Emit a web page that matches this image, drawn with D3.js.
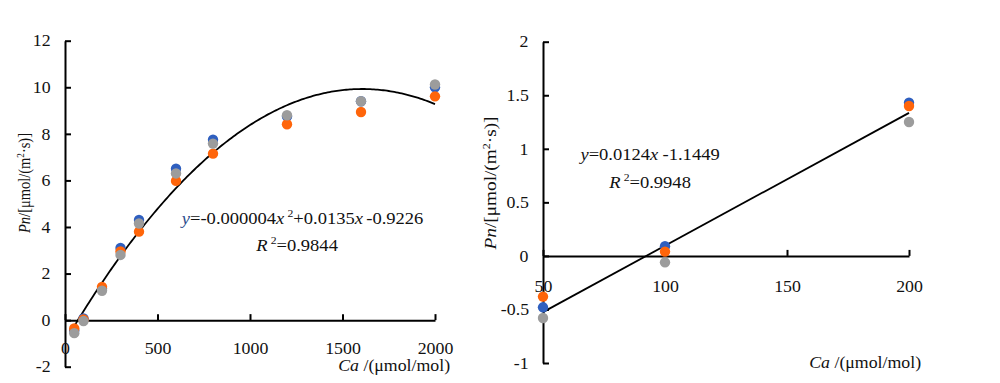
<!DOCTYPE html>
<html><head><meta charset="utf-8">
<script src="https://cdn.jsdelivr.net/npm/d3@7"></script>
<style>
.sx{transform-box:fill-box;transform-origin:center;transform:scaleX(1.08);}
.sq{transform-box:fill-box;transform-origin:center;transform:scaleX(1.06);}
</style>
</head>
<body style="margin:0;background:#fff;">
<script>
// ---- data: left chart ----
const leftCa = [50,100,200,300,400,600,800,1200,1600,2000];
const leftBlue = [-0.45,0.07,1.35,3.1,4.3,6.5,7.75,8.75,9.4,10.0];
const leftOrange = [-0.36,0.03,1.43,2.95,3.8,5.98,7.15,8.41,8.94,9.61];
const leftGray = [-0.56,-0.04,1.26,2.8,4.15,6.3,7.58,8.8,9.4,10.12];
const leftFit = [-0.0000042,0.0135,-0.9226]; // quadratic trendline a,b,c
const leftXTicks = [0,500,1000,1500,2000];
const leftYTicks = [-2,0,2,4,6,8,10,12];

// ---- data: right chart ----
const rightCa = [50,100,200];
const rightBlue = [-0.48,0.09,1.43];
const rightOrange = [-0.38,0.04,1.40];
const rightGray = [-0.58,-0.06,1.25];
const rightFit = [0.0124,-1.1449]; // linear trendline slope, intercept
const rightXTicks = [50,100,150,200];
const rightYTicks = [-1,-0.5,0,0.5,1,1.5,2];

const colors = {blue:"#2F5FBF", orange:"#FF650A", gray:"#9C9C9C"};
const FONT = "Liberation Serif";
const FS = 16.5, FE = 17.5;

const svg = d3.select("body").append("svg").attr("width",1000).attr("height",383)
  .attr("font-family",FONT);
svg.append("rect").attr("width",1000).attr("height",383).attr("fill","#fff");

function txt(sel){ return sel.append("text").attr("font-family",FONT).attr("fill","#111"); }

function drawPanel(o){
  const g = svg.append("g");
  const x = d3.scaleLinear().domain(o.xDomain).range(o.xRange);
  const y = d3.scaleLinear().domain(o.yDomain).range(o.yRange);
  const ya = g.append("g").attr("transform",`translate(${o.xRange[0]},0)`)
    .call(d3.axisLeft(y).tickValues(o.yTicks).tickSizeInner(-6).tickSizeOuter(0).tickPadding(15).tickFormat(d=>String(d)));
  const xa = g.append("g").attr("transform",`translate(0,${y(0)})`)
    .call(d3.axisBottom(x).tickValues(o.xTicks).tickSizeInner(-6).tickSizeOuter(0).tickPadding(o.xPad).tickFormat(d=>String(d)));
  [ya,xa].forEach(a=>{
    a.attr("font-family",FONT).attr("font-size",FS);
    a.select(".domain").attr("stroke","#000").attr("stroke-width",2);
    a.selectAll(".tick line").attr("stroke","#000").attr("stroke-width",2);
    a.selectAll(".tick text").attr("fill","#111").attr("font-family",FONT).attr("class","sx");
  });
  const fitPts = o.fitX.map(v=>[v,o.fitFn(v)]);
  g.append("path").datum(fitPts)
    .attr("d",d3.line().x(d=>x(d[0])).y(d=>y(d[1])))
    .attr("fill","none").attr("stroke","#000").attr("stroke-width",1.8);
  [["blue",o.blue],["orange",o.orange],["gray",o.gray]].forEach(([c,vals])=>{
    g.selectAll(null).data(o.xs.map((v,i)=>[v,vals[i]])).enter().append("circle")
      .attr("cx",d=>x(d[0])).attr("cy",d=>y(d[1])).attr("r",5.2).attr("fill",colors[c]);
  });
  const t = txt(g).attr("transform",`translate(${o.titleX},183) rotate(-90)`)
    .attr("text-anchor","middle").attr("font-size",16).attr("dy","0.35em")
    .attr("textLength",o.titleLen).attr("lengthAdjust","spacingAndGlyphs");
  t.append("tspan").attr("font-style","italic").text("Pn");
  t.append("tspan").text("/[μmol/(m");
  t.append("tspan").attr("font-size",10).attr("dy",-6).text("2");
  t.append("tspan").attr("dy",6).text("·s)]");
  const xt = txt(g).attr("x",o.xTitleX).attr("y",o.xTitleY).attr("text-anchor","end").attr("font-size",FS).attr("class","sx");
  xt.append("tspan").attr("font-style","italic").text("Ca");
  xt.append("tspan").text(" /(μmol/mol)");
  return {x,y,g};
}

drawPanel({
  xDomain:[0,2000], xRange:[65,435], yDomain:[-2,12], yRange:[366.7,40.7],
  xTicks:leftXTicks, yTicks:leftYTicks, xPad:22,
  xs:leftCa, blue:leftBlue, orange:leftOrange, gray:leftGray,
  fitX:d3.range(50,2001,10), fitFn:v=>leftFit[0]*v*v+leftFit[1]*v+leftFit[2],
  titleX:24, titleLen:100, xTitleX:446, xTitleY:371
});
drawPanel({
  xDomain:[50,200], xRange:[543,909], yDomain:[-1,2], yRange:[363,41.7],
  xTicks:rightXTicks, yTicks:rightYTicks, xPad:24,
  xs:rightCa, blue:rightBlue, orange:rightOrange, gray:rightGray,
  fitX:[50,200], fitFn:v=>rightFit[0]*v+rightFit[1],
  titleX:490, titleLen:133, xTitleX:917, xTitleY:368
});

function sup(t){ t.append("tspan").attr("font-size",11).attr("dy",-7).attr("dx",3).text("2"); }
function eqLeft(){
  const t = txt(svg).attr("x",302.5).attr("y",224).attr("text-anchor","middle").attr("font-size",FE).attr("class","sq");
  t.append("tspan").attr("font-style","italic").attr("fill","#2B4C8C").text("y");
  t.append("tspan").text("=-0.000004");
  t.append("tspan").attr("font-style","italic").text("x");
  sup(t);
  t.append("tspan").attr("dy",7).text("+0.0135");
  t.append("tspan").attr("font-style","italic").text("x");
  t.append("tspan").attr("dx",3).text("-0.9226");
  const r = txt(svg).attr("x",297).attr("y",251).attr("text-anchor","middle").attr("font-size",FE).attr("class","sq");
  r.append("tspan").attr("font-style","italic").text("R");
  sup(r);
  r.append("tspan").attr("dy",7).text("=0.9844");
}
function eqRight(){
  const t = txt(svg).attr("x",650).attr("y",160).attr("text-anchor","middle").attr("font-size",FE).attr("class","sq");
  t.append("tspan").attr("font-style","italic").text("y");
  t.append("tspan").text("=0.0124");
  t.append("tspan").attr("font-style","italic").text("x");
  t.append("tspan").attr("dx",4).text("-1.1449");
  const r = txt(svg).attr("x",650).attr("y",188).attr("text-anchor","middle").attr("font-size",FE).attr("class","sq");
  r.append("tspan").attr("font-style","italic").text("R");
  sup(r);
  r.append("tspan").attr("dy",7).text("=0.9948");
}
eqLeft(); eqRight();
</script>
</body></html>
